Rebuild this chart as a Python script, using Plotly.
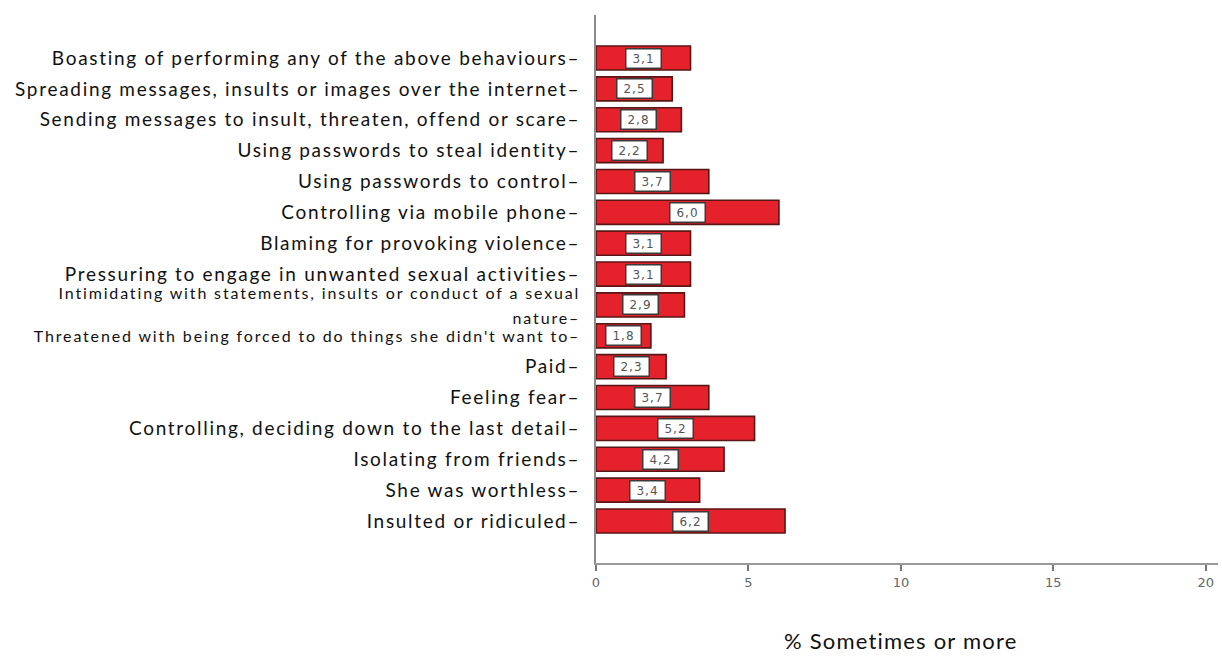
import plotly.graph_objects as go

categories = [
    "Boasting of performing any of the above behaviours–",
    "Spreading messages, insults or images over the internet–",
    "Sending messages to insult, threaten, offend or scare–",
    "Using passwords to steal identity–",
    "Using passwords to control–",
    "Controlling via mobile phone–",
    "Blaming for provoking violence–",
    "Pressuring to engage in unwanted sexual activities–",
    "Intimidating with statements, insults or conduct of a sexual<br>nature–",
    "Threatened with being forced to do things she didn't want to–",
    "Paid–",
    "Feeling fear–",
    "Controlling, deciding down to the last detail–",
    "Isolating from friends–",
    "She was worthless–",
    "Insulted or ridiculed–",
]
values = [3.1, 2.5, 2.8, 2.2, 3.7, 6.0, 3.1, 3.1, 2.9, 1.8, 2.3, 3.7, 5.2, 4.2, 3.4, 6.2]
value_labels = ["3,1", "2,5", "2,8", "2,2", "3,7", "6,0", "3,1", "3,1", "2,9", "1,8",
                "2,3", "3,7", "5,2", "4,2", "3,4", "6,2"]
small_labels = {8, 9}
x_ticks = [0, 5, 10, 15, 20]
x_title = "% Sometimes or more"

ids = list(range(len(categories)))


def styled(c, i):
    if i in small_labels:
        parts = c.split("<br>")
        return "<br>".join(
            f'<span style="font-size:16px;letter-spacing:1.85px">{p}</span>' for p in parts)
    return f'<span style="letter-spacing:1.7px">{c}</span>'


ticktext = [styled(c, i) for i, c in enumerate(categories)]

fig = go.Figure()
fig.add_trace(go.Bar(
    x=values, y=ids, orientation="h",
    marker=dict(color="#e5222b", line=dict(color="#5a1616", width=1.6)),
    width=0.78, hoverinfo="skip",
))

for i, (v, t) in enumerate(zip(values, value_labels)):
    fig.add_annotation(
        x=v / 2, y=i, xref="x", yref="y",
        text=f'<span style="letter-spacing:1px">{t}</span>', showarrow=False,
        font=dict(family="DejaVu Sans", size=12, color="#555555"),
        bgcolor="white", bordercolor="#3a3a3a", borderwidth=1.5,
        width=32, height=16, borderpad=1,
    )

fig.add_annotation(
    x=(900 - 596) / 622, y=(563 - 640) / 548, xref="paper", yref="paper",
    xanchor="center", yanchor="middle", showarrow=False,
    text=f'<span style="letter-spacing:1.2px">{x_title}</span>',
    font=dict(family="Lato", size=22, color="#111111"),
)

fig.update_layout(
    width=1222, height=657,
    margin=dict(l=596, r=4, t=15, b=94),
    paper_bgcolor="white", plot_bgcolor="white",
    showlegend=False,
    font=dict(family="Lato", color="#111111"),
    xaxis=dict(
        range=[0, 20.4], tickvals=x_ticks, ticktext=[str(t) for t in x_ticks],
        showgrid=False, zeroline=False, automargin=False,
        showline=True, linecolor="#9a9a9a", linewidth=2,
        ticks="outside", ticklen=6, tickwidth=1.5, tickcolor="#777777",
        tickfont=dict(family="DejaVu Sans", size=13, color="#666666"),
    ),
    yaxis=dict(
        type="linear", automargin=False,
        range=[15 + (563 - 521) / 30.87, -(58 - 15) / 30.87],
        tickvals=ids, ticktext=ticktext,
        showgrid=False, zeroline=False,
        showline=True, linecolor="#8a8a8a", linewidth=2,
        ticks="", ticklabelstandoff=10,
        tickfont=dict(family="Lato", size=19, color="#111111"),
    ),
)

fig.write_html("out.html")
